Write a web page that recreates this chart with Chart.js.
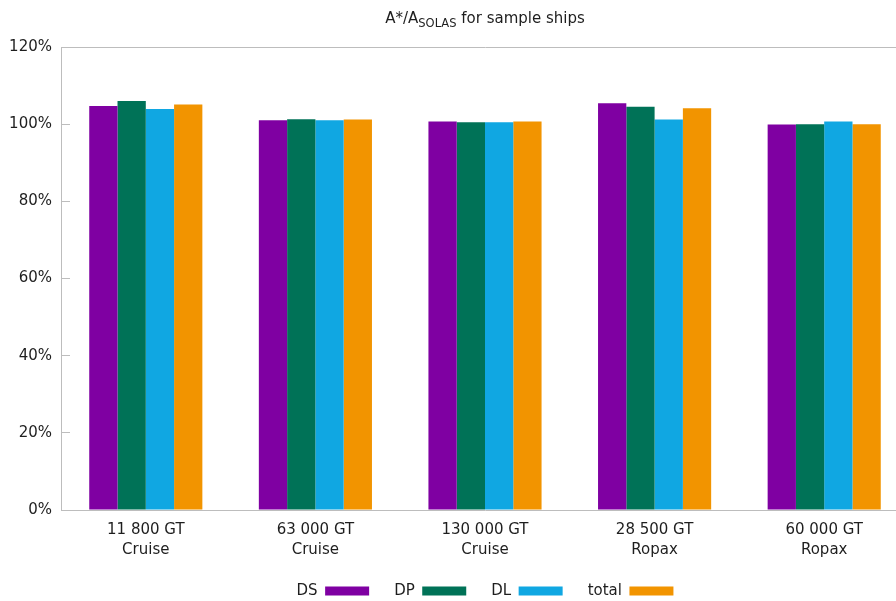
<!DOCTYPE html>
<html lang="en">
<head>
<meta charset="utf-8">
<title>A*/A SOLAS for sample ships</title>
<script src="https://cdn.jsdelivr.net/npm/chart.js"></script>
<style>
  html, body { margin: 0; padding: 0; background: #fff; overflow: hidden; }
  #wrap { position: relative; width: 910px; height: 601px; }
</style>
</head>
<body>
<div id="wrap"><canvas id="ships"></canvas></div>
<script>
// ship categories (two-line labels)
const ships = [
  ['11 800 GT', 'Cruise'],
  ['63 000 GT', 'Cruise'],
  ['130 000 GT', 'Cruise'],
  ['28 500 GT', 'Ropax'],
  ['60 000 GT', 'Ropax']
];

// A*/A_SOLAS in percent
const ds    = [104.7, 101.0, 100.7, 105.4,  99.9];
const dp    = [106.0, 101.3, 100.5, 104.5, 100.0];
const dl    = [103.9, 101.0, 100.5, 101.2, 100.7];
const total = [105.1, 101.2, 100.7, 104.1, 100.0];

const yTicks = [0, 20, 40, 60, 80, 100, 120];

const FONT = 'DejaVu Sans';
const GREY = '#bdbdbd';
const INK = '#1e1e1e';

// title with a subscript, centred on the plot area
const subTitle = {
  id: 'subTitle',
  afterDraw(chart) {
    const c = chart.ctx;
    const area = chart.chartArea;
    const parts = [
      { t: 'A*/A', size: 15, dy: 0 },
      { t: 'SOLAS', size: 11.5, dy: 4 },
      { t: ' for sample ships', size: 15, dy: 0 }
    ];
    c.save();
    let w = 0;
    parts.forEach(p => { c.font = p.size + 'px "' + FONT + '"'; p.w = c.measureText(p.t).width; w += p.w; });
    let x = (area.left + area.right) / 2 - w / 2;
    c.fillStyle = INK;
    c.textBaseline = 'alphabetic';
    c.textAlign = 'left';
    parts.forEach(p => {
      c.font = p.size + 'px "' + FONT + '"';
      c.fillText(p.t, x, 23 + p.dy);
      x += p.w;
    });
    c.restore();
  }
};

new Chart(document.getElementById('ships'), {
  type: 'bar',
  data: {
    labels: ships,
    datasets: [
      { label: 'DS',    data: ds,    backgroundColor: '#7f00a2' },
      { label: 'DP',    data: dp,    backgroundColor: '#007257' },
      { label: 'DL',    data: dl,    backgroundColor: '#10a7e2' },
      { label: 'total', data: total, backgroundColor: '#f29400' }
    ]
  },
  options: {
    responsive: true,
    maintainAspectRatio: false,
    animation: false,
    layout: { padding: { top: 47, right: 1, left: 0, bottom: -7.5 } },
    datasets: { bar: { categoryPercentage: 0.667, barPercentage: 1.0 } },
    plugins: {
      title: { display: false },
      tooltip: { enabled: false },
      legend: {
        position: 'bottom',
        fullSize: false,
        rtl: true,
        reverse: true,
        textDirection: 'ltr',
        labels: {
          boxWidth: 44,
          boxHeight: 9,
          padding: 25,
          color: INK,
          font: { family: FONT, size: 15 }
        }
      }
    },
    scales: {
      x: {
        grid: { display: false },
        border: { display: true, color: GREY },
        ticks: {
          color: INK,
          padding: 2,
          maxRotation: 0,
          font: { family: FONT, size: 15, lineHeight: 1.35 }
        },
        afterFit(s) { s.height = 48.5; }
      },
      y: {
        min: 0,
        max: 120,
        afterBuildTicks(s) { s.ticks = yTicks.map(v => ({ value: v })); },
        grid: {
          color: c => (c.tick && c.tick.value === 120 ? GREY : 'rgba(0,0,0,0)'),
          tickColor: GREY,
          tickLength: -9
        },
        border: { display: true, color: GREY },
        ticks: {
          color: INK,
          padding: 18,
          font: { family: FONT, size: 15 },
          callback: v => v + '%'
        },
        afterFit(s) { s.width = 61; }
      }
    }
  },
  plugins: [subTitle]
});
</script>
</body>
</html>
